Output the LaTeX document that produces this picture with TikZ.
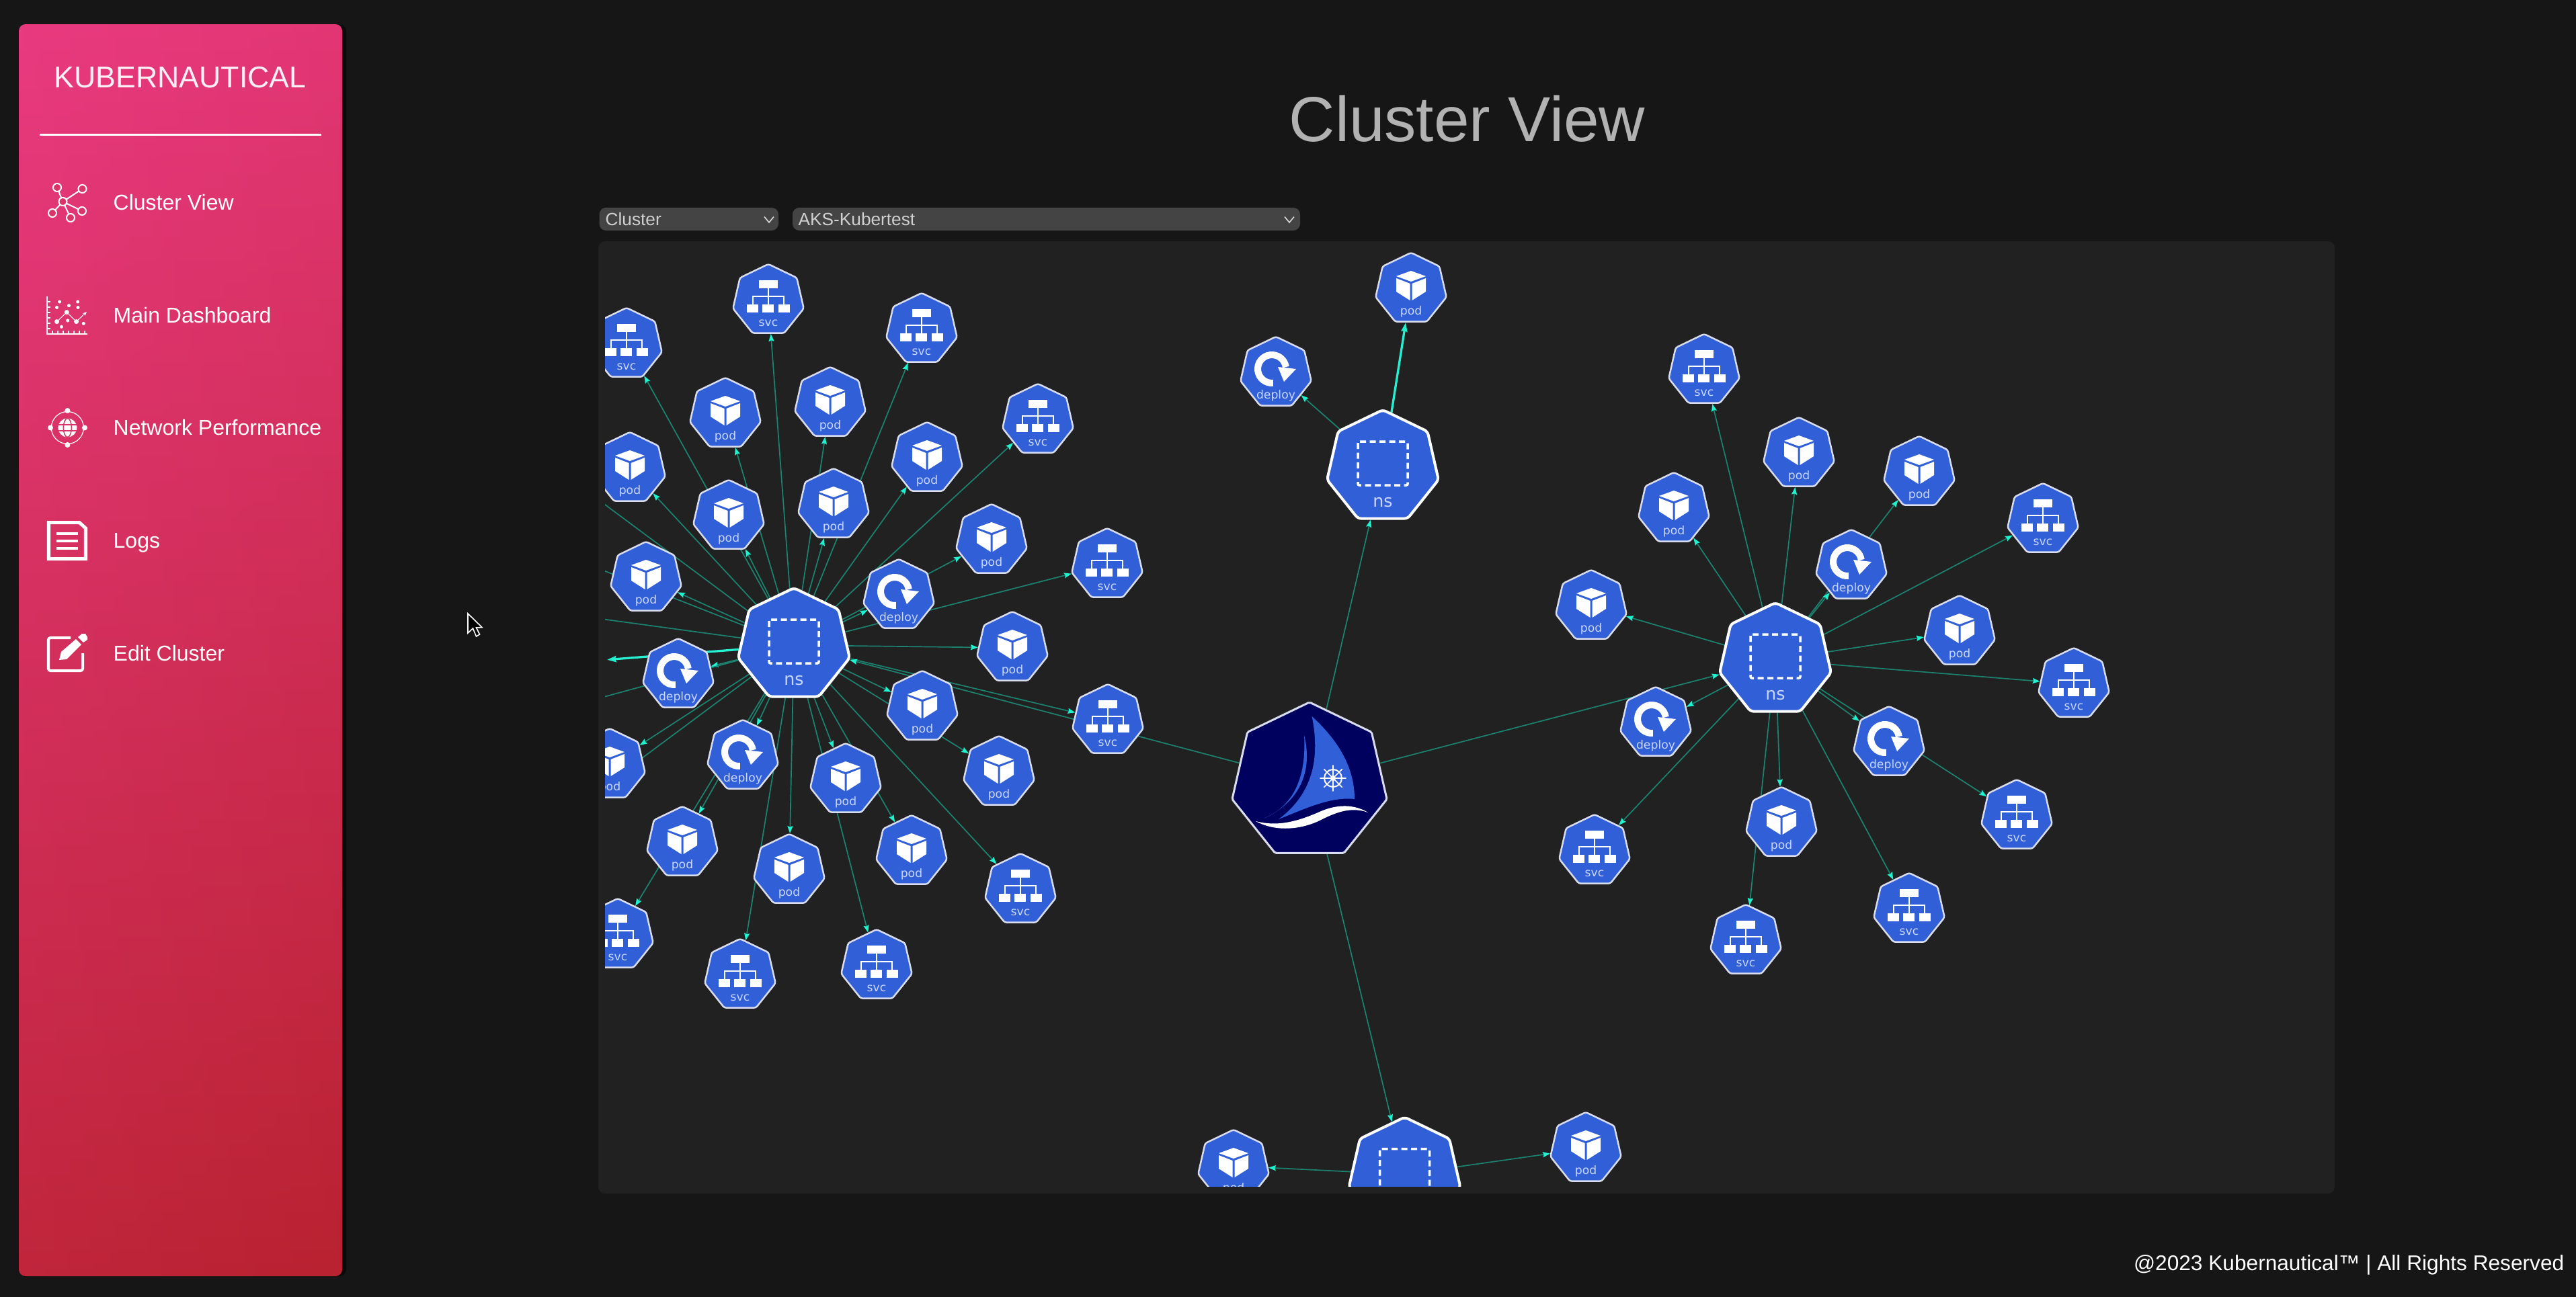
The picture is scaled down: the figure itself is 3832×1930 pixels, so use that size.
\documentclass[tikz,border=0pt]{standalone}
\usepackage{fontspec}
\setmainfont{Liberation Sans}
\newfontfamily\kfont{DejaVu Sans}
\usetikzlibrary{shapes.geometric,arrows.meta,calc}
\pgfdeclarelayer{bg}\pgfdeclarelayer{edges}
\pgfsetlayers{bg,edges,main}
\definecolor{pagebg}{HTML}{161616}
\definecolor{panelbg}{HTML}{212121}
\definecolor{kblue}{HTML}{305FD8}
\definecolor{kline}{HTML}{1C8370}
\definecolor{ktip}{HTML}{1EF2CF}
\definecolor{kbright}{HTML}{26EFD2}
\definecolor{klabel}{HTML}{C9D6FF}
\definecolor{kborder}{HTML}{D8DCEE}
\definecolor{knavy}{HTML}{00005F}
\definecolor{ddbg}{HTML}{444444}
\definecolor{ddtext}{HTML}{D0D0D0}
\definecolor{sidetop}{HTML}{E93A80}
\definecolor{sidebot}{HTML}{B92230}
\definecolor{sidemid}{HTML}{DB3468}
\tikzset{
  hexs/.style={regular polygon,regular polygon sides=7,minimum size=10.8mm,inner sep=0pt,
    fill=kblue,draw=kborder,line width=0.25mm,rounded corners=0.3mm},
  hexb/.style={regular polygon,regular polygon sides=7,minimum size=17mm,inner sep=0pt,
    fill=kblue,draw=white,line width=0.4mm,rounded corners=0.5mm},
  hexroot/.style={regular polygon,regular polygon sides=7,minimum size=23.6mm,inner sep=0pt,
    fill=knavy,draw=kborder,line width=0.3mm,rounded corners=0.2mm},
  lbl/.style={anchor=base,inner sep=0pt,text=klabel,font=\kfont\fontsize{4.9pt}{5pt}\selectfont},
  lblb/.style={anchor=base,inner sep=0pt,text=klabel,font=\kfont\fontsize{7.2pt}{8pt}\selectfont},
  lnk/.style={draw=kline,line width=0.17mm,-{Stealth[length=1.1mm,width=0.8mm,inset=0.15mm,color=ktip]}},
  lnkb/.style={draw=kbright,line width=0.33mm,-{Stealth[length=1.35mm,width=0.9mm,inset=0.15mm,color=ktip]}},
  navtxt/.style={anchor=base west,inner sep=0pt,text=white,font=\fontsize{9.1pt}{11pt}\selectfont},
  ddtxt/.style={anchor=base west,inner sep=0pt,text=ddtext,font=\fontsize{7.46pt}{9pt}\selectfont},
  ddbox/.style={fill=ddbg,rounded corners=1mm},
  chev/.style={draw=white!85!black,line width=0.16mm},
  icon/.style={draw=white,line width=0.2mm},
}
\newcommand\iconpod{%
  \fill[white] (0,-27)--(22,-19)--(0,-11)--(-22,-19)--cycle;
  \fill[white] (-22,-16)--(-1.5,-8)--(-1.5,17)--(-22,4)--cycle;
  \fill[white] (22,-16)--(1.5,-8)--(1.5,17)--(22,4)--cycle;}
\newcommand\iconsvc{%
  \fill[white] (-14,-30) rectangle (14,-18);
  \fill[white] (-32,6) rectangle (-15,18);
  \fill[white] (-9,6) rectangle (8,18);
  \fill[white] (15,6) rectangle (32,18);
  \draw[white,line width=0.25mm] (0,-18)--(0,6) (-23,6)--(-23,-6)--(23,-6)--(23,6);}
\newcommand\icondeploy{%
  \draw[white,line width=1mm] (-6,-6) ++(-8:21) arc[start angle=-8,end angle=-275,radius=21];
  \fill[white] (3,-9)--(30,-6)--(12,13)--cycle;}
\newcommand\iconns{%
  \draw[white,line width=0.35mm,dash pattern=on 0.9mm off 0.55mm,rounded corners=0.2mm] (-37,-38) rectangle (37,27);}
\newcommand\knode[4]{%
  \node[hexs] (#1) at (#2,#3) {};
  \begin{scope}[shift={(#1.center)}]\csname icon#4\endcsname\end{scope}
  \node[lbl] (#1-l) at ($(#1.center)+(0,38)$) {#4};}
\newcommand\nsnode[3]{%
  \node[hexb] (#1) at (#2,#3) {};
  \begin{scope}[shift={(#1.center)}]\iconns\end{scope}
  \node[lblb] (#1-l) at ($(#1.center)+(0,59)$) {ns};}
\begin{document}
\begin{tikzpicture}[x=0.01cm,y=-0.01cm]
\useasboundingbox (0,0) rectangle (3832,1930);
\begin{pgfonlayer}{bg}
  \fill[pagebg] (0,0) rectangle (3832,1930);
  \fill[panelbg,rounded corners=1mm] (890,359) rectangle (3473,1776);
  \fill[black,opacity=0.5,rounded corners=1mm] (28,36) rectangle (515,1899);
  \path[top color=sidetop,bottom color=sidebot,rounded corners=1mm] (28,36) rectangle (509,1899);
  \path[left color=sidetop,right color=sidebot,opacity=0.15,rounded corners=1mm] (28,36) rectangle (509,1899);
\end{pgfonlayer}
% sidebar
\node[anchor=base,inner sep=0pt,text=white!92!sidetop,font=\fontsize{12.7pt}{14pt}\selectfont] (brand) at (268,130) {KUBERNAUTICAL};
\draw[white,line width=0.3mm] (59,200) -- (478,200);
\node[navtxt] (nav1) at (168,312) {Cluster View};
\node[navtxt] (nav2) at (168,480) {Main Dashboard};
\node[navtxt] (nav3) at (168,647) {Network Performance};
\node[navtxt] (nav4) at (168,815) {Logs};
\node[navtxt] (nav5) at (168,983) {Edit Cluster};
% cluster icon
\foreach \a/\b in {85/279,122.5/281,122/314,105/324,78/317}{
  \draw[icon] (93.5,300) -- (\a,\b);
  \filldraw[draw=white,line width=0.2mm,fill=sidemid] (\a,\b) circle[radius=6];}
\filldraw[draw=white,line width=0.2mm,fill=sidemid] (93.5,300) circle[radius=6];
% dashboard icon
\draw[white,line width=0.12mm] (70,441)--(70,497)--(130,497);
\foreach \y in {449,457,465,473,481,489}{\draw[white,line width=0.12mm] (70,\y)--(75,\y);}
\foreach \x in {78,86,94,102,110,118,126}{\draw[white,line width=0.12mm] (\x,497)--(\x,492);}
\foreach \a/\b/\r in {88.6/449/2.5,102.5/454.7/2.5,115.7/449/2.5,84.6/457.5/2.5,99.3/464.6/3.5,116/457.5/2.5,84.6/478.6/3.5,100.7/477/2.5,113.6/478.6/3.5,124.3/481.4/2.5,91.4/486.3/2.5}{
  \fill[white] (\a,\b) circle[radius=\r];}
\draw[white,line width=0.1mm,-{Stealth[length=0.6mm,width=0.5mm]}] (84.6,478.6)--(99.3,464.6)--(113.6,478.6)--(129,464);
% network icon
\draw[white,line width=0.12mm] (100.4,636.5) circle[radius=24];
\fill[white] (100.4,636.5) circle[radius=14];
\draw[sidemid,line width=0.15mm] (100.4,636.5) ellipse[x radius=6,y radius=14];
\draw[sidemid,line width=0.15mm] (86.4,632)--(114.4,632) (86.4,641)--(114.4,641);
\foreach \a/\b in {100.4/611,100.4/662,75/636.5,126/636.5}{\fill[white] (\a,\b) circle[radius=4];}
% logs icon
\draw[white,line width=0.5mm] (72.5,777.5)--(118,777.5)--(127.5,786)--(127.5,831.5)--(72.5,831.5)--cycle;
\draw[white,line width=0.42mm] (84,794)--(116,794) (84,805)--(116,805) (84,816)--(116,816);
% edit icon
\draw[white,line width=0.4mm,rounded corners=0.3mm] (105,949)--(72,949)--(72,998)--(123,998)--(123,972);
\fill[white] (88,982)--(91,970)--(113,951)--(121,959)--(99,981)--cycle;
\fill[white] (116,948)--(122,943)--(127,943)--(130,948)--(130,952)--(124,956)--cycle;
% cursor
\filldraw[fill=black,draw=white,line width=0.16mm] (696,913)--(696,942)--(703.5,935)--(708.5,947)--(713.5,944)--(708.5,934)--(717,933.5)--cycle;
% title and footer
\node[anchor=base west,inner sep=0pt,text=white!70!black,font=\fontsize{26.9pt}{30pt}\selectfont] (title) at (1917,210) {Cluster View};
\node[anchor=base east,inner sep=0pt,text=white,font=\fontsize{9pt}{11pt}\selectfont] (foot) at (3815,1890) {@2023 Kubernautical™ | All Rights Reserved};
% dropdowns
\fill[ddbox] (891.5,309) rectangle (1158,343);
\fill[ddbox] (1179,309) rectangle (1934,343);
\node[ddtxt] (dd1) at (900,335) {Cluster};
\node[ddtxt] (dd2) at (1187,335) {AKS-Kubertest};
\draw[chev] (1137,322.6)--(1144,331)--(1151,322.6);
\draw[chev] (1911,322.6)--(1918,331)--(1925,322.6);
% graph nodes
\begin{scope}
\clip (900,359) rectangle (3473,1765.6);
\knode{ls1}{932}{512}{svc}
\knode{ls2}{1143}{447}{svc}
\knode{ls3}{1371}{490}{svc}
\knode{ls4}{1544}{625}{svc}
\knode{ls5}{1647}{840}{svc}
\knode{ls6}{1648}{1072}{svc}
\knode{ls7}{1518}{1324}{svc}
\knode{ls8}{1304}{1437}{svc}
\knode{ls9}{1101}{1451}{svc}
\knode{ls10}{919}{1391}{svc}
\knode{lp1}{1235}{600}{pod}
\knode{lp2}{1079}{616}{pod}
\knode{lp3}{1379}{682}{pod}
\knode{lp4}{937}{697}{pod}
\knode{lp5}{1240}{751}{pod}
\knode{lp6}{1084}{768}{pod}
\knode{lp7}{1475}{804}{pod}
\knode{lp8}{961}{860}{pod}
\knode{lp9}{1506}{964}{pod}
\knode{lp10}{1372}{1052}{pod}
\knode{lp11}{907}{1138}{pod}
\knode{lp12}{1486}{1149}{pod}
\knode{lp13}{1258}{1160}{pod}
\knode{lp14}{1015}{1254}{pod}
\knode{lp15}{1356}{1267}{pod}
\knode{lp16}{1174}{1295}{pod}
\knode{ld1}{1337}{886}{deploy}
\knode{ld2}{1009}{1004}{deploy}
\knode{ld3}{1105}{1125}{deploy}
\nsnode{L}{1181}{960}
\nsnode{T}{2057}{695}
\knode{tp}{2099}{430}{pod}
\knode{td}{1898}{555}{deploy}
\nsnode{R}{2641}{982}
\knode{rs1}{2535}{551}{svc}
\knode{rs2}{3039}{773}{svc}
\knode{rs3}{3085}{1018}{svc}
\knode{rs4}{3000}{1214}{svc}
\knode{rs5}{2372}{1266}{svc}
\knode{rs6}{2840}{1353}{svc}
\knode{rs7}{2597}{1400}{svc}
\knode{rp1}{2676}{675}{pod}
\knode{rp2}{2490}{757}{pod}
\knode{rp3}{2855}{703}{pod}
\knode{rp4}{2367}{902}{pod}
\knode{rp5}{2915}{940}{pod}
\knode{rp6}{2650}{1225}{pod}
\knode{rd1}{2754}{842}{deploy}
\knode{rd2}{2463}{1076}{deploy}
\knode{rd3}{2810}{1105}{deploy}
\node[hexb] (B) at (2089.5,1747.5) {};
\begin{scope}[shift={(B.center)}]\iconns\end{scope}
\knode{bp1}{1835}{1735}{pod}
\knode{bp2}{2359}{1709}{pod}
% root
\node[hexroot] (root) at (1948,1163) {};
\begin{scope}[shift={(root.center)}]
  \fill[kblue] (3.6,-97) .. controls (53,-52) and (67,-10) .. (67,26)
     .. controls (30,22) and (-10,42) .. (-46,56)
     .. controls (8,16) and (15,-40) .. cycle;
  \fill[kblue] (-8,-69) .. controls (3,-25) and (-6,26) .. (-68,55)
     .. controls (-28,38) and (-4,0) .. cycle;
  \fill[white] (-80,59) .. controls (-45,78) and (-5,68) .. (15,58)
     .. controls (35,48) and (60,36) .. (87,46)
     .. controls (62,31) and (35,36) .. (15,45)
     .. controls (-15,58) and (-45,68) .. cycle;
  \draw[white,line width=0.2mm] (35,-5) circle[radius=13];
  \fill[white] (35,-5) circle[radius=4];
  \foreach \a in {0,45,...,315}{\draw[white,line width=0.16mm,line cap=round] (35,-5) -- ++(\a:19);}
\end{scope}
\end{scope}
% off-panel ends of connectors
\coordinate (c1) at (880,736);
\coordinate (c2) at (880,842);
\coordinate (c3) at (880,919);
\coordinate (c4) at (903,981.7);
\coordinate (c5) at (880,1042);
\coordinate (c6) at (880,1184);
% connectors
\begin{pgfonlayer}{edges}
\begin{scope}
\clip (900,359) rectangle (3473,1765.6);
\foreach \t in {ls1,ls2,ls3,ls4,ls5,ls6,ls7,ls8,ls9,ls10,lp1,lp2,lp3,lp4,lp5,lp6,lp7,lp8,lp9,lp10,lp11,lp12,lp13,lp14,lp15,lp16,ld1,ld2,ld3}{
  \draw[lnk] (L) -- (\t);}
\foreach \t in {c1,c2,c3,c5,c6}{\draw[kline,line width=0.17mm] (L) -- (\t);}
\draw[lnkb] (L) -- (c4);
\draw[lnk] (T) -- (td);
\draw[lnkb] (T) -- (tp);
\foreach \t in {rs1,rs2,rs3,rs4,rs5,rs6,rs7,rp1,rp2,rp3,rp4,rp5,rp6,rd1,rd2,rd3}{
  \draw[lnk] (R) -- (\t);}
\foreach \t in {bp1,bp2}{\draw[lnk] (B) -- (\t);}
\foreach \t in {L,T,R,B}{\draw[lnk] (root) -- (\t);}
\end{scope}
\end{pgfonlayer}
\end{tikzpicture}
\end{document}
